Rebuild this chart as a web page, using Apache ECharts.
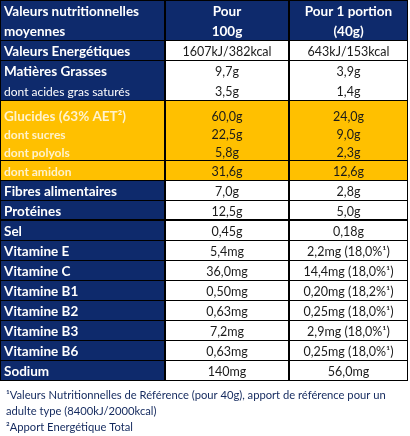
<!DOCTYPE html>
<html><head><meta charset="utf-8">
<script src="https://cdn.jsdelivr.net/npm/echarts@6/dist/echarts.min.js"></script>
<style>html,body{margin:0;padding:0;background:#fff}#c{width:410px;height:436px}</style>
</head><body><div id="c"></div>
<script>
// ---- data ----
const rowLabels = [
  ["Valeurs nutritionnelles", "moyennes"],
  ["Valeurs Energétiques"],
  ["Matières Grasses", "dont acides gras saturés"],
  ["Glucides (63% AET²)", "dont sucres", "dont polyols"],
  ["dont amidon"],
  ["Fibres alimentaires"],
  ["Protéines"],
  ["Sel"],
  ["Vitamine E"],
  ["Vitamine C"],
  ["Vitamine B1"],
  ["Vitamine B2"],
  ["Vitamine B3"],
  ["Vitamine B6"],
  ["Sodium"]
];
const per100g = [
  ["Pour", "100g"],
  ["1607kJ/382kcal"],
  ["9,7g", "3,5g"],
  ["60,0g", "22,5g", "5,8g"],
  ["31,6g"],
  ["7,0g"],
  ["12,5g"],
  ["0,45g"],
  ["5,4mg"],
  ["36,0mg"],
  ["0,50mg"],
  ["0,63mg"],
  ["7,2mg"],
  ["0,63mg"],
  ["140mg"]
];
const perPortion = [
  ["Pour 1 portion", "(40g)"],
  ["643kJ/153kcal"],
  ["3,9g", "1,4g"],
  ["24,0g", "9,0g", "2,3g"],
  ["12,6g"],
  ["2,8g"],
  ["5,0g"],
  ["0,18g"],
  ["2,2mg (18,0%¹)"],
  ["14,4mg (18,0%¹)"],
  ["0,20mg (18,2%¹)"],
  ["0,25mg (18,0%¹)"],
  ["2,9mg (18,0%¹)"],
  ["0,25mg (18,0%¹)"],
  ["56,0mg"]
];
const rowKinds = ["header","plain","plain","yellow","yellow","plain","plain","plain","plain","plain","plain","plain","plain","plain","plain"];
const footnotes = [
  "¹Valeurs Nutritionnelles de Référence (pour 40g), apport de référence pour un",
  "adulte type (8400kJ/2000kcal)",
  "²Apport Energétique Total"
];

// ---- style / layout ----
const NAVY = '#0E2A6C', YELLOW = '#FFC000', CREAM = '#FFF2CC', INK = '#1a1a1a', NOTE = '#13295E';
const FONT = 'Lato';
const colEdges = [0, 165, 289, 408];
const thickBelowRow = 6;

const columns = [rowLabels, per100g, perPortion];
const lineCounts = rowLabels.map(r => r.length);
const rowStarts = [];
let acc = 0;
lineCounts.forEach(n => { rowStarts.push(acc); acc += n; });
const totalLines = acc;

const cells = [];
for (let r = 0; r < rowLabels.length; r++) for (let c = 0; c < 3; c++) cells.push([c, r]);

function hLine(x0, x1, y, w) {
  const yy = w % 2 ? y + 0.5 : y;
  return { type: 'line', shape: { x1: x0, y1: yy, x2: x1, y2: yy }, style: { stroke: '#000', lineWidth: w } };
}
function vLine(x, y0, y1) {
  return { type: 'line', shape: { x1: x + 0.5, y1: y0, x2: x + 0.5, y2: y1 }, style: { stroke: '#000', lineWidth: 1 } };
}

function renderItem(params, api) {
  const c = api.value(0), r = api.value(1);
  const y0 = rowStarts[r], y1 = y0 + lineCounts[r];
  const p0 = api.coord([colEdges[c], y0]);
  const p1 = api.coord([colEdges[c + 1], y1]);
  const x0 = Math.round(p0[0]), x1 = Math.round(p1[0]);
  const ty = Math.round(p0[1]), by = Math.round(p1[1]);
  const kind = rowKinds[r];
  const fill = kind === 'header' ? NAVY : kind === 'yellow' ? YELLOW : (c === 0 ? NAVY : '#ffffff');
  const children = [{ type: 'rect', shape: { x: x0, y: ty, width: x1 - x0, height: by - ty }, style: { fill: fill } }];
  const n = columns[c][r].length;
  columns[c][r].forEach((t, i) => {
    // in three-line block the lines sit slightly tighter toward the bottom
    const frac = n === 3 ? 0.75 + i * 0.9 : i + 0.5;
    const cy = api.coord([0, y0 + frac])[1] + 2;
    let color, weight, size, align, tx;
    if (c === 0) {
      const sub = t.indexOf('dont ') === 0;
      color = kind === 'yellow' ? CREAM : '#ffffff';
      weight = sub && kind !== 'yellow' ? 'normal' : 'bold';
      size = sub ? 12 : 13.5;
      align = 'left'; tx = x0 + 4;
    } else {
      align = 'center'; tx = (x0 + x1) / 2;
      if (kind === 'header') { color = '#ffffff'; weight = 'bold'; size = 13.5; }
      else { color = INK; weight = 'normal'; size = 12.5; }
    }
    children.push({ type: 'text', style: { text: t, x: tx, y: cy, align: align, verticalAlign: 'middle', fill: color, fontFamily: FONT, fontWeight: weight, fontSize: size } });
  });
  children.push(hLine(x0, x1, ty, 1));
  children.push(hLine(x0, x1, by, r === thickBelowRow ? 2 : 1));
  children.push(vLine(x0, ty, by));
  children.push(vLine(x1 - 1, ty, by));
  return { type: 'group', children: children };
}

const chart = echarts.init(document.getElementById('c'));
chart.setOption({
  animation: false,
  title: {
    text: footnotes.join('\n'),
    left: 1, top: 382,
    textStyle: { fontFamily: FONT, fontSize: 11.2, fontWeight: 'normal', color: NOTE, lineHeight: 16 }
  },
  grid: { left: 0, top: 0, width: 408, height: 380 },
  xAxis: { type: 'value', min: 0, max: 408, show: false },
  yAxis: { type: 'value', min: 0, max: totalLines, inverse: true, show: false },
  series: [{ type: 'custom', renderItem: renderItem, data: cells, clip: false }]
});
</script>
</body></html>
